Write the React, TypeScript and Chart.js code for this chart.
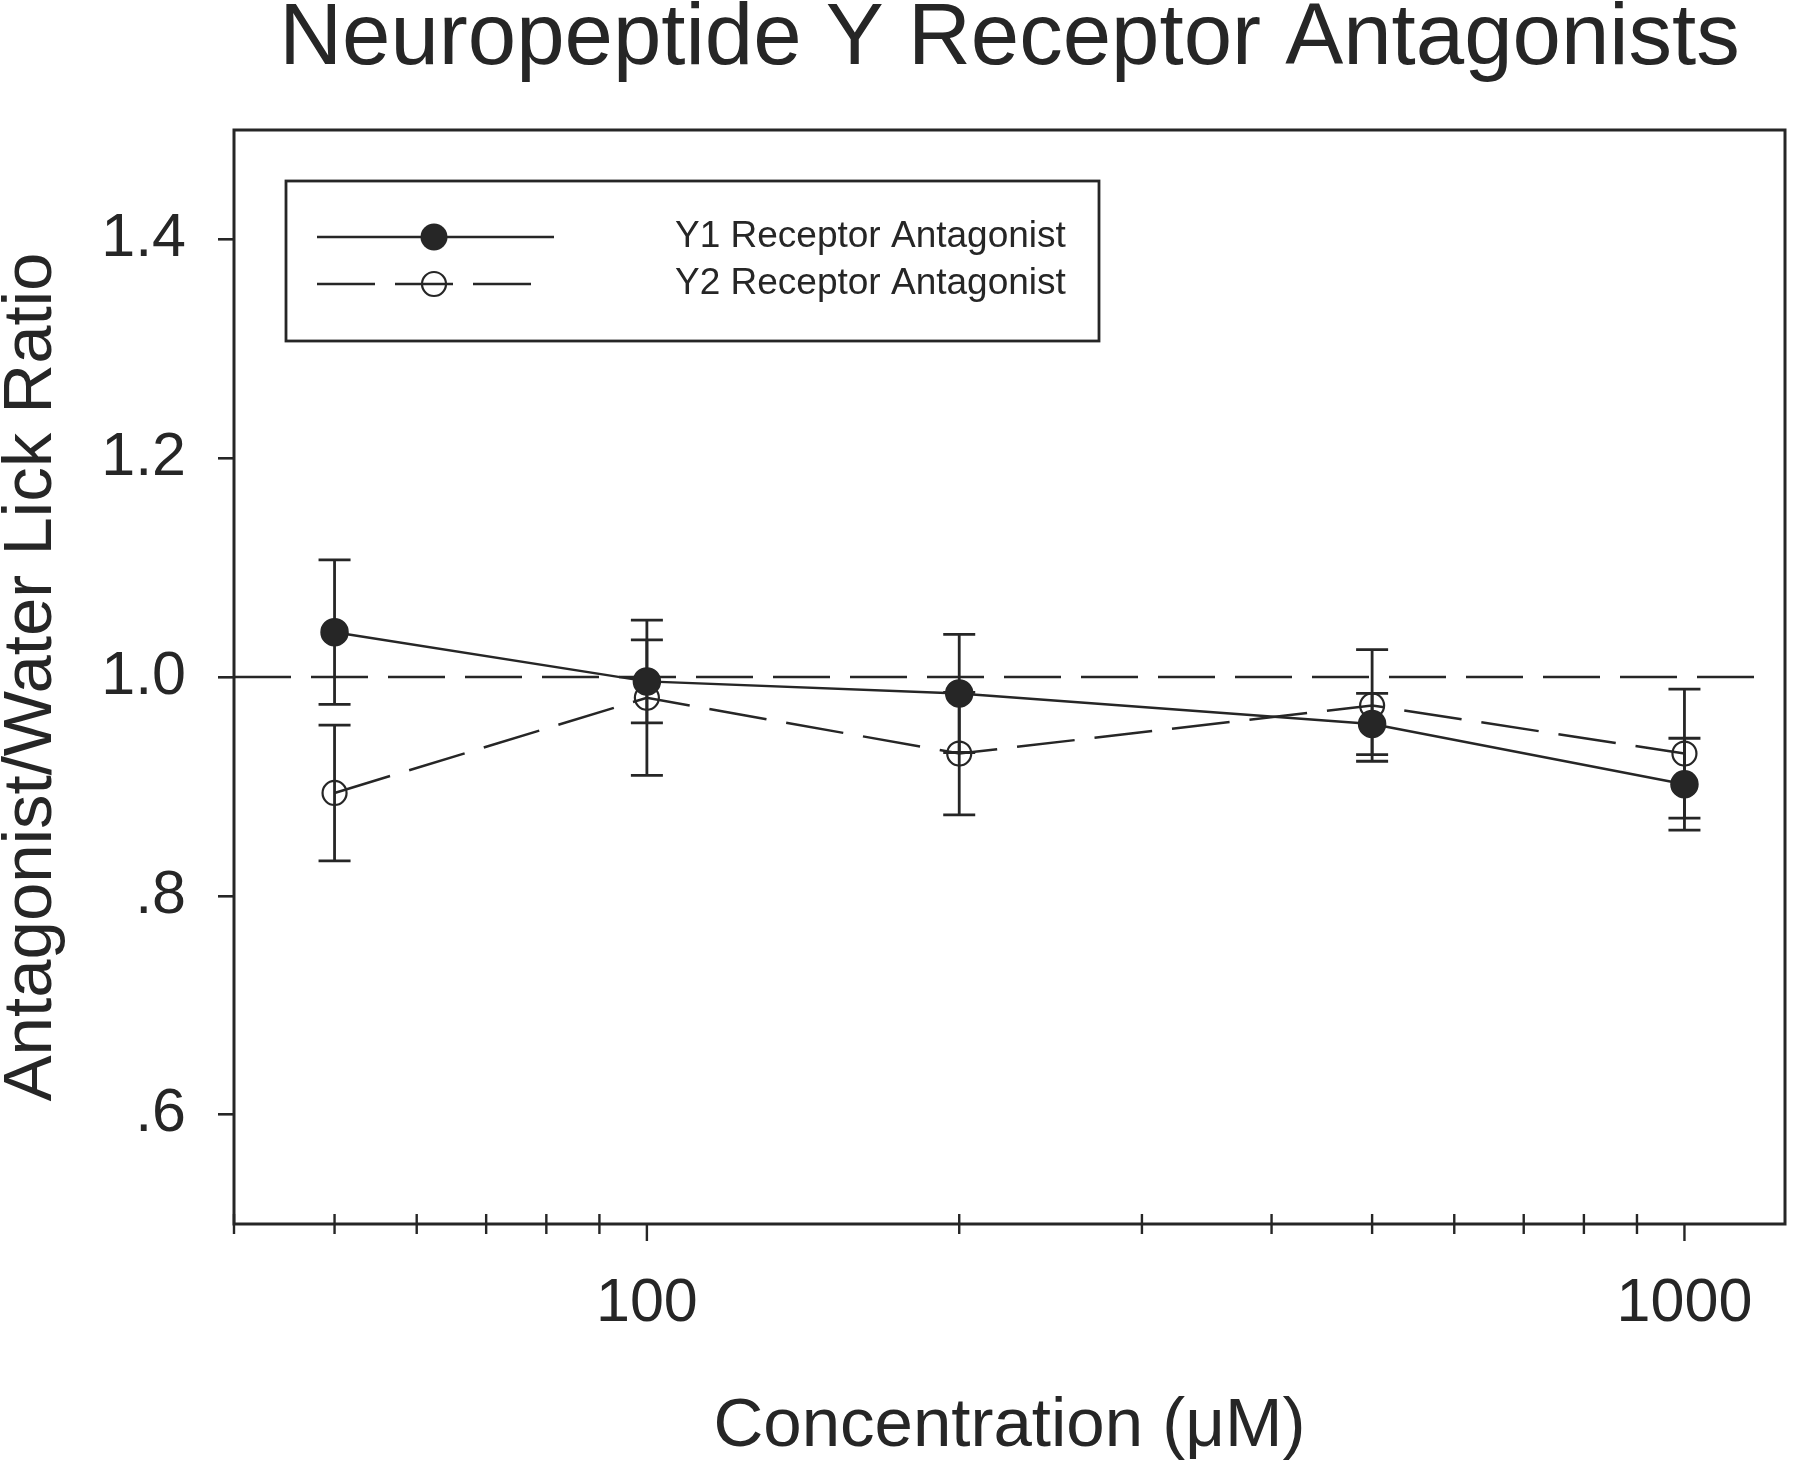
import React, { useEffect, useRef } from "react";
import { Chart, registerables } from "chart.js";

Chart.register(...registerables);

// ---------- data ----------
const concentrations = [50, 100, 200, 500, 1000];
const y1Means = [1.041, 0.996, 0.985, 0.957, 0.902];
const y1Errors = [0.066, 0.038, 0.054, 0.028, 0.042];
const y2Means = [0.894, 0.981, 0.93, 0.974, 0.93];
const y2Errors = [0.062, 0.071, 0.056, 0.051, 0.059];
const seriesLabels = ["Y1 Receptor Antagonist", "Y2 Receptor Antagonist"];
const referenceX = [40, 1200];
const referenceY = 1.0;
const yTickValues = [0.6, 0.8, 1.0, 1.2, 1.4];
const yTickLabels = [".6", ".8", "1.0", "1.2", "1.4"];
const xMinorTicks = [40, 50, 60, 70, 80, 90, 200, 300, 400, 500, 600, 700, 800, 900];
const xMajorTicks = [100, 1000];
const xTickLabels = ["100", "1000"];
const chartTitle = "Neuropeptide Y Receptor Antagonists";
const xTitle = "Concentration (\u03bcM)";
const yTitle = "Antagonist/Water Lick Ratio";

const INK = "#262626";
const FONT = "'Liberation Sans', Arial, Helvetica, sans-serif";

const customPlugin = {
  id: "customDecor",
  beforeDatasetsDraw(chart: any) {
    const { ctx, scales } = chart;
    const xs = scales.x;
    const ys = scales.y;
    ctx.save();
    ctx.strokeStyle = INK;
    ctx.lineWidth = 2.8;
    const cap = 16;
    const drawBars = (means: number[], errs: number[]) => {
      concentrations.forEach((c, i) => {
        const px = xs.getPixelForValue(c);
        const top = ys.getPixelForValue(means[i] + errs[i]);
        const bot = ys.getPixelForValue(means[i] - errs[i]);
        ctx.beginPath();
        ctx.moveTo(px, top);
        ctx.lineTo(px, bot);
        ctx.moveTo(px - cap, top);
        ctx.lineTo(px + cap, top);
        ctx.moveTo(px - cap, bot);
        ctx.lineTo(px + cap, bot);
        ctx.stroke();
      });
    };
    drawBars(y2Means, y2Errors);
    drawBars(y1Means, y1Errors);
    ctx.restore();
  },
  afterDraw(chart: any) {
    const { ctx, chartArea, scales } = chart;
    const xs = scales.x;
    ctx.save();
    // frame
    ctx.strokeStyle = INK;
    ctx.lineWidth = 3;
    ctx.strokeRect(chartArea.left, chartArea.top, chartArea.right - chartArea.left, chartArea.bottom - chartArea.top);
    // x tick marks
    const axisY = chartArea.bottom;
    ctx.lineWidth = 2.4;
    ctx.beginPath();
    xMinorTicks.forEach((v) => {
      const px = xs.getPixelForValue(v);
      ctx.moveTo(px, axisY - 10);
      ctx.lineTo(px, axisY + 10);
    });
    xMajorTicks.forEach((v) => {
      const px = xs.getPixelForValue(v);
      ctx.moveTo(px, axisY);
      ctx.lineTo(px, axisY + 17);
    });
    ctx.stroke();

    // title
    ctx.fillStyle = INK;
    ctx.font = `87px ${FONT}`;
    ctx.textAlign = "center";
    ctx.textBaseline = "alphabetic";
    ctx.fillText(chartTitle, (chartArea.left + chartArea.right) / 2, 64);

    // legend
    const boxL = 286, boxT = 181, boxR = 1099, boxB = 341;
    ctx.lineWidth = 2.8;
    ctx.strokeRect(boxL, boxT, boxR - boxL, boxB - boxT);
    const rows = [237, 284];
    const sampleL = 317;
    const markerX = 434;
    // row 1 solid
    ctx.lineWidth = 2.5;
    ctx.setLineDash([]);
    ctx.beginPath();
    ctx.moveTo(sampleL, rows[0]);
    ctx.lineTo(554, rows[0]);
    ctx.stroke();
    ctx.beginPath();
    ctx.arc(markerX, rows[0], 13.5, 0, Math.PI * 2);
    ctx.fill();
    // row 2 dashed
    ctx.setLineDash([58, 20]);
    ctx.beginPath();
    ctx.moveTo(sampleL, rows[1]);
    ctx.lineTo(533, rows[1]);
    ctx.stroke();
    ctx.setLineDash([]);
    ctx.lineWidth = 2.2;
    ctx.beginPath();
    ctx.arc(markerX, rows[1], 12, 0, Math.PI * 2);
    ctx.stroke();
    // legend text
    ctx.font = `37px ${FONT}`;
    ctx.textAlign = "left";
    ctx.textBaseline = "middle";
    ctx.fillText(seriesLabels[0], 675, rows[0]);
    ctx.fillText(seriesLabels[1], 675, rows[1]);
    ctx.restore();
  },
};

export default function App() {
  const canvasRef = useRef<HTMLCanvasElement | null>(null);

  useEffect(() => {
    document.body.style.margin = "0";
    const canvas = canvasRef.current;
    if (!canvas) return;
    const chart = new Chart(canvas, {
      type: "line",
      data: {
        datasets: [
          {
            label: seriesLabels[0],
            data: concentrations.map((x, i) => ({ x, y: y1Means[i] })),
            borderColor: INK,
            borderWidth: 2.5,
            pointRadius: 13.5,
            pointBackgroundColor: INK,
            pointBorderColor: INK,
            pointBorderWidth: 1.5,
            fill: false,
            tension: 0,
          },
          {
            label: seriesLabels[1],
            data: concentrations.map((x, i) => ({ x, y: y2Means[i] })),
            borderColor: INK,
            borderWidth: 2.5,
            borderDash: [58, 20],
            pointRadius: 12,
            pointBackgroundColor: "rgba(0,0,0,0)",
            pointBorderColor: INK,
            pointBorderWidth: 2.2,
            fill: false,
            tension: 0,
          },
          {
            label: "reference",
            data: referenceX.map((x) => ({ x, y: referenceY })),
            borderColor: INK,
            borderWidth: 2.5,
            borderDash: [57, 20],
            pointRadius: 0,
            fill: false,
          },
        ],
      },
      options: {
        responsive: false,
        animation: false,
        devicePixelRatio: 1,
        layout: { padding: { top: 130, right: 3, left: 0, bottom: 0 } },
        plugins: {
          legend: { display: false },
          tooltip: { enabled: false },
          title: { display: false },
        },
        scales: {
          x: {
            type: "logarithmic",
            min: 40,
            max: 1250,
            afterFit: (s: any) => {
              s.height = 238;
            },
            afterBuildTicks: (s: any) => {
              s.ticks = xMajorTicks.map((v) => ({ value: v }));
            },
            ticks: {
              autoSkip: false,
              maxRotation: 0,
              minRotation: 0,
              color: INK,
              font: { family: FONT, size: 61 },
              padding: 44,
              callback: (v: any) => {
                const i = xMajorTicks.indexOf(Number(v));
                return i >= 0 ? xTickLabels[i] : "";
              },
            },
            grid: { display: false, drawTicks: false },
            border: { display: false },
            title: {
              display: true,
              text: xTitle,
              color: INK,
              font: { family: FONT, size: 69, lineHeight: 1.0 },
              padding: { top: 0, bottom: 1 },
            },
          },
          y: {
            type: "linear",
            min: 0.5,
            max: 1.5,
            afterFit: (s: any) => {
              s.width = 234;
            },
            afterBuildTicks: (s: any) => {
              s.ticks = yTickValues.map((v) => ({ value: v }));
            },
            ticks: {
              color: INK,
              font: { family: FONT, size: 61 },
              padding: 32,
              callback: (v: any) => {
                const i = yTickValues.findIndex((t) => Math.abs(t - Number(v)) < 1e-9);
                return i >= 0 ? yTickLabels[i] : "";
              },
            },
            grid: {
              display: true,
              drawOnChartArea: false,
              drawTicks: true,
              tickLength: 16,
              color: INK,
              lineWidth: 2.6,
            },
            border: { display: false },
            title: {
              display: true,
              text: yTitle,
              color: INK,
              font: { family: FONT, size: 69, lineHeight: 0.8 },
              padding: { top: 4, bottom: 0 },
            },
          },
        },
      },
      plugins: [customPlugin],
    } as any);
    return () => {
      chart.destroy();
    };
  }, []);

  return (
    <div style={{ width: 1800, height: 1462 }}>
      <canvas ref={canvasRef} width={1800} height={1462} style={{ display: "block" }} />
    </div>
  );
}
